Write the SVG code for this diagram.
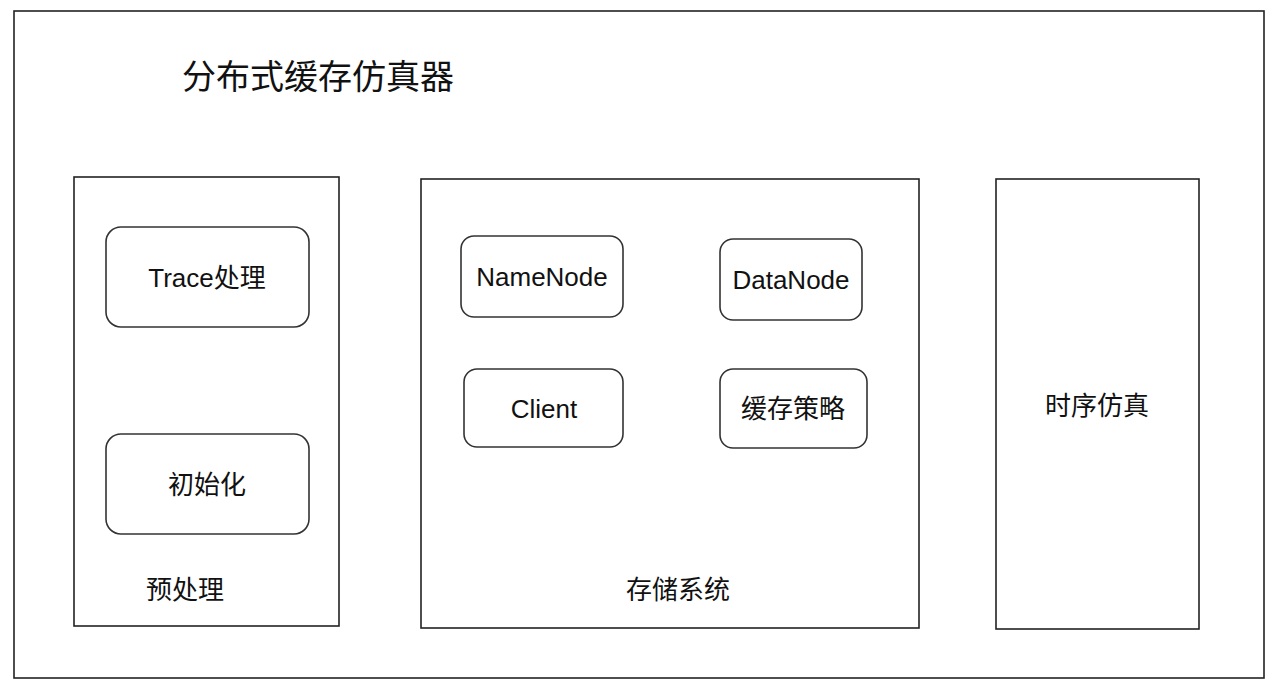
<svg xmlns="http://www.w3.org/2000/svg" width="1280" height="691" viewBox="0 0 1280 691">
<style>
text{font-family:"Liberation Sans","Noto Sans CJK SC",sans-serif;fill:#111;text-anchor:middle;dominant-baseline:central}
.box{fill:#fff;stroke:#222;stroke-width:1.6}
.node{fill:#fff;stroke:#333;stroke-width:1.6}
.lbl{font-size:26px}
.title{font-size:34px;text-anchor:start}
</style>
<rect width="1280" height="691" fill="#fff"/>
<g id="outer">
<rect class="box" x="14" y="11" width="1250" height="667"/>
<text class="title" x="182" y="77">分布式缓存仿真器</text>
</g>
<g id="preprocess">
<rect class="box" x="74" y="177" width="265" height="449"/>
<text class="lbl" x="185" y="590">预处理</text>
</g>
<g id="trace">
<rect class="node" x="106" y="227" width="203" height="100" rx="15"/>
<text class="lbl" x="207" y="278">Trace处理</text>
</g>
<g id="init">
<rect class="node" x="106" y="434" width="203" height="100" rx="15"/>
<text class="lbl" x="207" y="485">初始化</text>
</g>
<g id="storage">
<rect class="box" x="421" y="179" width="498" height="449"/>
<text class="lbl" x="678" y="590">存储系统</text>
</g>
<g id="namenode">
<rect class="node" x="461" y="236" width="162" height="81" rx="13"/>
<text class="lbl" x="542" y="277">NameNode</text>
</g>
<g id="datanode">
<rect class="node" x="720" y="239" width="142" height="81" rx="13"/>
<text class="lbl" x="791" y="280">DataNode</text>
</g>
<g id="client">
<rect class="node" x="464" y="369" width="159" height="78" rx="13"/>
<text class="lbl" x="544" y="409">Client</text>
</g>
<g id="policy">
<rect class="node" x="720" y="369" width="147" height="79" rx="13"/>
<text class="lbl" x="793" y="409">缓存策略</text>
</g>
<g id="timing">
<rect class="box" x="996" y="179" width="203" height="450"/>
<text class="lbl" x="1097" y="406">时序仿真</text>
</g>
<g id="connectors"></g>
</svg>
